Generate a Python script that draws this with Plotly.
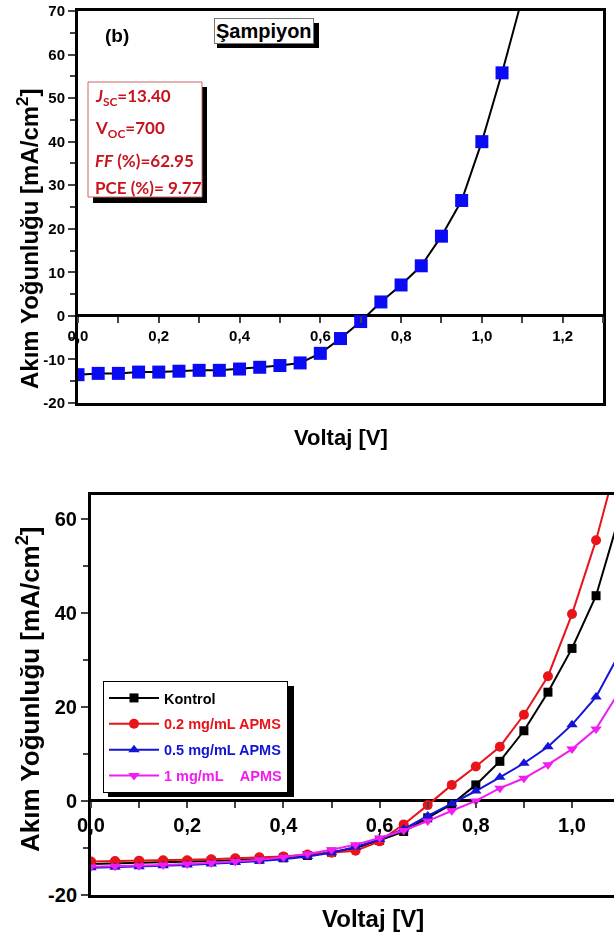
import plotly.graph_objects as go

# ---------------- data ----------------
voltage_top = [0.0, 0.05, 0.10, 0.15, 0.20, 0.25, 0.30, 0.35, 0.40, 0.45, 0.50, 0.55,
               0.60, 0.65, 0.70, 0.75, 0.80, 0.85, 0.90, 0.95, 1.00, 1.05, 1.10]
champion = [-13.5, -13.2, -13.2, -12.9, -12.9, -12.7, -12.5, -12.5, -12.2, -11.8, -11.4, -10.8,
            -8.6, -5.2, -1.3, 3.2, 7.1, 11.5, 18.3, 26.5, 40.0, 55.8, 73.0]

voltage = [0.0, 0.05, 0.10, 0.15, 0.20, 0.25, 0.30, 0.35, 0.40, 0.45, 0.50, 0.55,
           0.60, 0.65, 0.70, 0.75, 0.80, 0.85, 0.90, 0.95, 1.00, 1.05, 1.10]
kontrol = [-13.4, -13.3, -13.2, -13.1, -13.0, -12.8, -12.6, -12.4, -12.1, -11.6, -10.9, -10.0,
           -8.4, -6.5, -3.6, -0.7, 3.4, 8.4, 14.9, 23.1, 32.4, 43.6, 61.0]
apms_02 = [-12.9, -12.8, -12.7, -12.6, -12.6, -12.4, -12.2, -12.0, -11.8, -11.4, -11.0, -10.6,
           -8.6, -5.0, -0.9, 3.4, 7.3, 11.5, 18.3, 26.5, 39.7, 55.4, 74.6]
apms_05 = [-14.2, -14.1, -14.0, -13.8, -13.6, -13.4, -13.1, -12.8, -12.4, -11.8, -11.0, -9.8,
           -8.2, -6.0, -3.2, -0.6, 2.1, 5.0, 8.0, 11.5, 16.2, 22.1, 31.6]
apms_1 = [-14.0, -13.9, -13.8, -13.6, -13.4, -13.2, -12.9, -12.5, -12.0, -11.3, -10.4, -9.3,
          -7.9, -6.3, -4.3, -2.1, 0.0, 2.7, 4.8, 7.7, 11.0, 15.3, 23.5]

series_names = ["Kontrol", "0.2 mg/mL APMS", "0.5 mg/mL APMS", "1 mg/mL\u00a0\u00a0\u00a0\u00a0APMS"]
series_colors = ["#000000", "#e8141a", "#1414d8", "#f01cf0"]
series_symbols = ["square", "circle", "triangle-up", "triangle-down"]

# tick labels
top_y_tickvals = [-20, -10, 0, 10, 20, 30, 40, 50, 60, 70]
top_y_ticktext = ["-20", "-10", "0", "10", "20", "30", "40", "50", "60", "70"]
bot_y_tickvals = [-20, 0, 20, 40, 60]
bot_y_ticktext = ["-20", "0", "20", "40", "60"]
x_tickvals = [0.0, 0.2, 0.4, 0.6, 0.8, 1.0, 1.2]
x_ticktext = ["0,0", "0,2", "0,4", "0,6", "0,8", "1,0", "1,2"]

y_title = "Akım Yoğunluğu [mA/cm<sup>2</sup>]"
x_title = "Voltaj [V]"
info_lines = ["<i>J</i><sub>SC</sub>=13.40", "V<sub>OC</sub>=700", "<i>FF</i> (%)=62.95", "PCE (%)= 9.77"]

top_xrange = [0, 1.3]
top_yrange = [-20, 70]
bot_xrange = [0, 1.0873]
bot_yrange = [-20, 65]

# ---------------- layout helpers ----------------
W, H = 614, 938
def px(x):
    return x / W
def py(y):
    return 1 - y / H

FONT = "Arial, Liberation Sans, sans-serif"
top_dom_x = [px(78), px(603)]
top_dom_y = [py(403), py(11)]
bot_dom_x = [px(91), 1.0]
bot_dom_y = [py(895), py(495)]

def zero_pos(dom, rng):
    return dom[0] + (dom[1] - dom[0]) * (0 - rng[0]) / (rng[1] - rng[0])

fig = go.Figure()

# top chart
fig.add_trace(go.Scatter(
    x=voltage_top, y=champion, mode="lines+markers", showlegend=False,
    line=dict(color="black", width=2),
    marker=dict(symbol="square", size=13, color="#0a0af5", line=dict(width=0)),
    xaxis="x", yaxis="y", cliponaxis=True))
fig.add_trace(go.Scatter(x=voltage_top, y=champion, mode="markers", opacity=0,
                         showlegend=False, hoverinfo="skip", xaxis="x3", yaxis="y"))

# bottom chart
for vals, name, col, sym in zip([kontrol, apms_02, apms_05, apms_1], series_names,
                                series_colors, series_symbols):
    fig.add_trace(go.Scatter(
        x=voltage, y=vals, mode="lines+markers",
        name=f"<span style='color:{col}'>{name}</span>",
        legendgroup=name,
        line=dict(color=col, width=2),
        marker=dict(symbol=sym, size=10 if sym != "square" else 9, color=col),
        xaxis="x2", yaxis="y2"))
fig.add_trace(go.Scatter(x=voltage, y=kontrol, mode="markers", opacity=0,
                         showlegend=False, hoverinfo="skip", xaxis="x4", yaxis="y2"))

frame = dict(showline=True, linecolor="black", linewidth=3, showgrid=False, zeroline=False)

def yaxis_cfg(dom, rng, anchor, mirror, vals, text, minor_dt, size):
    return dict(domain=dom, range=rng, anchor=anchor, mirror=mirror,
                showline=True, linecolor="black", linewidth=3, showgrid=False,
                zeroline=True, zerolinecolor="black", zerolinewidth=3,
                ticks="outside", ticklen=7, tickwidth=2,
                tickmode="array", tickvals=vals, ticktext=text, ticklabeloverflow="allow",
                minor=dict(dtick=minor_dt, tick0=0, ticks="outside", ticklen=5, tickwidth=2),
                tickfont=dict(family=FONT, size=size, weight="bold"), automargin=False)

def xzero_cfg(base, pos, rng, size):
    return dict(overlaying=base, anchor="free", position=pos,
                range=rng, side="bottom", showline=False, showgrid=False, zeroline=False,
                ticks="outside", ticklen=6, tickwidth=2, ticklabeloverflow="allow",
                tickmode="array", tickvals=x_tickvals, ticktext=x_ticktext,
                minor=dict(dtick=0.1, tick0=0, ticks="outside", ticklen=6, tickwidth=2),
                tickfont=dict(family=FONT, size=size, weight="bold"), automargin=False)

fig.update_layout(
    width=W, height=H, margin=dict(l=0, r=0, t=0, b=0),
    paper_bgcolor="white", plot_bgcolor="white",
    font=dict(family=FONT, color="black"),
    xaxis=dict(domain=top_dom_x, range=top_xrange, anchor="y", mirror=True,
               ticks="", showticklabels=False, **frame),
    yaxis=yaxis_cfg(top_dom_y, top_yrange, "x", True, top_y_tickvals, top_y_ticktext, 5, 15),
    xaxis3=xzero_cfg("x", zero_pos(top_dom_y, top_yrange), top_xrange, 15),
    xaxis2=dict(domain=bot_dom_x, range=bot_xrange, anchor="y2", mirror=True,
                ticks="", showticklabels=False, **frame),
    yaxis2=yaxis_cfg(bot_dom_y, bot_yrange, "x2", False, bot_y_tickvals, bot_y_ticktext, 10, 20),
    xaxis4=xzero_cfg("x2", zero_pos(bot_dom_y, bot_yrange), bot_xrange, 20),
    legend=dict(x=px(103), y=py(681), xanchor="left", yanchor="top",
                bgcolor="white", bordercolor="black", borderwidth=1,
                font=dict(family=FONT, size=14.5, weight="bold"),
                tracegroupgap=4, itemwidth=50),
)

shapes = []
# legend shadow
shapes.append(dict(type="rect", xref="paper", yref="paper", x0=px(108), x1=px(294),
                   y0=py(797), y1=py(686), fillcolor="black", line=dict(width=0), layer="above"))
# info box shadow + box
shapes.append(dict(type="rect", xref="paper", yref="paper", x0=px(93), x1=px(207),
                   y0=py(203), y1=py(87), fillcolor="black", line=dict(width=0), layer="above"))
shapes.append(dict(type="rect", xref="paper", yref="paper", x0=px(88), x1=px(202),
                   y0=py(197), y1=py(82), fillcolor="white",
                   line=dict(color="#c86464", width=1), layer="above"))
# Şampiyon shadow
shapes.append(dict(type="rect", xref="paper", yref="paper", x0=px(217), x1=px(319),
                   y0=py(48), y1=py(23), fillcolor="black", line=dict(width=0), layer="above"))
fig.update_layout(shapes=shapes)

def note(text, x, y, size, **kw):
    d = dict(text=text, x=px(x), y=py(y), xref="paper", yref="paper",
             xanchor=kw.pop("xanchor", "center"), yanchor=kw.pop("yanchor", "middle"),
             showarrow=False, font=dict(family=kw.pop("family", FONT), size=size, weight="bold",
                                        color=kw.pop("color", "black")))
    d.update(kw)
    return d

ann = [
    note(x_title, 341, 437, 22),
    note(x_title, 373, 918, 24),
    note(y_title, 28, 239, 24, textangle=-90),
    note(y_title, 28, 689, 26, textangle=-90),
    note("(b)", 117, 35, 19),
    note("Şampiyon", 264, 31, 20, bgcolor="white", bordercolor="#777777", borderwidth=1, borderpad=1),
]
for txt, yy in zip(info_lines, [97, 129, 161, 188]):
    ann.append(note(txt, 93, yy, 17, xanchor="left", family="Lato, Open Sans, sans-serif",
                    color="#c8141e"))
fig.update_layout(annotations=ann)

# the page's default 8px body margin would shift the figure; remove it
fig.write_html("out.html", config={"displayModeBar": False},
               post_script="document.body.style.margin='0';")
